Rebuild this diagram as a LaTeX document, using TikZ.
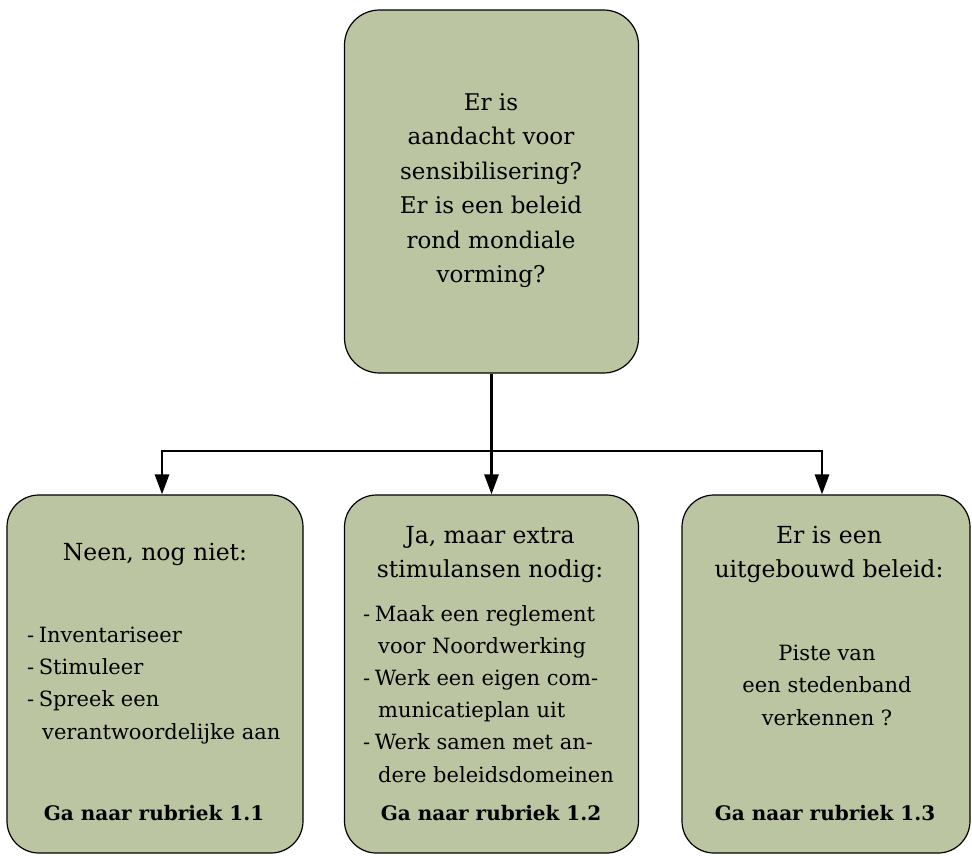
\documentclass[tikz,border=0pt]{standalone}
\usepackage{fontspec}
\setmainfont{DejaVu Serif}
\usetikzlibrary{arrows.meta}
\definecolor{olijf}{RGB}{188,197,161}
\tikzstyle{vak}=[draw, fill=olijf, line width=1.2pt, rounded corners=32pt, inner sep=0pt]
\tikzstyle{tekst}=[inner sep=0pt]
\newcommand{\vak}{\node[vak]}
\newcommand{\titel}{\fontsize{23.5}{34}\selectfont}
\newcommand{\lijst}{\fontsize{21}{32.2}\selectfont}
\newcommand{\verwijs}{\fontsize{20}{24}\selectfont\bfseries}
\newcommand{\streep}{-\hspace{4.5pt}}
\newcommand{\inspring}{\hspace{15pt}}

\begin{document}
\begin{tikzpicture}[x=1pt, y=-1pt
    ,lijn/.style={draw, line width=2.8pt}
    ,pijl/.style={lijn, -{Triangle[width=14pt,length=20pt]}}
]
\useasboundingbox (0,0) rectangle (972,855);
% de vraag bovenaan
\vak[minimum width=294pt, minimum height=363pt, rounded corners=35pt] (vraag) at (491.5,191.5) {};
\node[tekst, align=center, font=\fontsize{23}{34.5}\selectfont, anchor=base] (vraagtekst) at (491,282.5)
    {Er is\\aandacht voor\\sensibilisering?\\Er is een beleid\\rond mondiale\\vorming?};

% de drie antwoorden
\vak[minimum width=296pt, minimum height=358pt] (nee) at (155,674) {};
\vak[minimum width=294pt, minimum height=358pt] (ja) at (491.5,674) {};
\vak[minimum width=288pt, minimum height=358pt] (wel) at (826,674) {};

\node[tekst, font=\titel, anchor=base] (neetitel) at (155,560) {Neen, nog niet:};
\node[tekst, align=left, font=\lijst, anchor=base west] (neelijst) at (27,739)
    {\streep Inventariseer\\\streep Stimuleer\\\streep Spreek een\\\inspring verantwoordelijke aan};
\node[tekst, font=\verwijs, anchor=base] (neeverwijs) at (154,820) {Ga naar rubriek 1.1};

\node[tekst, align=center, font=\titel, anchor=base] (jatitel) at (490,577) {Ja, maar extra\\stimulansen nodig:};
\node[tekst, align=left, font=\lijst, anchor=base west] (jalijst) at (363,782)
    {\streep Maak een reglement\\\inspring voor Noordwerking\\\streep Werk een eigen com-\\\inspring municatieplan uit\\\streep Werk samen met an-\\\inspring dere beleidsdomeinen};
\node[tekst, font=\verwijs, anchor=base] (javerwijs) at (491,820) {Ga naar rubriek 1.2};

\node[tekst, align=center, font=\titel, anchor=base] (weltitel) at (829,577) {Er is een\\uitgebouwd beleid:};
\node[tekst, align=center, font=\lijst, anchor=base] (wellijst) at (827,725) {Piste van\\een stedenband\\verkennen ?};
\node[tekst, font=\verwijs, anchor=base] (welverwijs) at (825,820) {Ga naar rubriek 1.3};

% verbindingen
\coordinate (splits) at (491.5,451);
\draw[lijn] (vraag.south) -- (splits);
\draw[pijl] (splits) -| ([xshift=7pt]nee.north);
\draw[pijl] (splits) -- (ja.north);
\draw[pijl] (splits) -| ([xshift=-4pt]wel.north);
\end{tikzpicture}
\end{document}
